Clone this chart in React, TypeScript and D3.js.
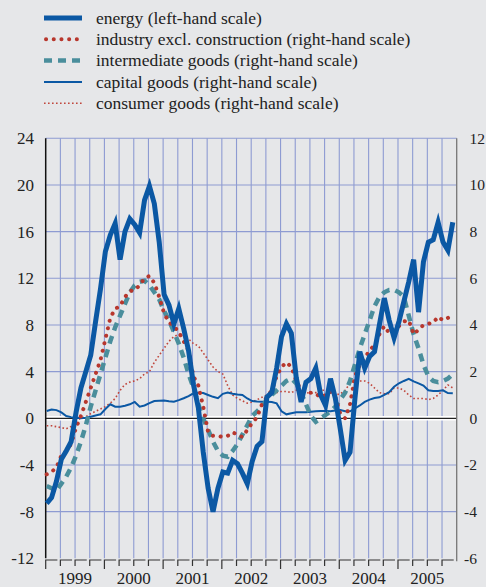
import * as d3 from "d3";
import React, { useEffect, useRef } from "react";

// monthly, Jan 1999 .. Dec 2005 (annual % changes)
const years = [1999, 2000, 2001, 2002, 2003, 2004, 2005];

const energy = [
  -7.3, -6.8, -5.4, -3.5, -2.8, -2.0, 0.5, 2.6, 4.0, 5.4, 8.3, 11.1,
  14.3, 15.7, 16.7, 13.6, 16.0, 17.1, 16.6, 15.9, 18.7, 19.9, 18.4, 15.1,
  10.6, 9.7, 8.1, 9.4, 7.7, 5.8, 2.9, 0.9, -2.9, -6.0, -8.0, -6.0,
  -4.6, -4.7, -3.6, -3.9, -4.7, -5.6, -3.7, -2.4, -2.0, 1.8, 2.2, 4.3,
  7.0, 8.1, 7.3, 3.5, 1.4, 3.1, 3.4, 4.3, 2.0, 1.1, 3.4, 1.7,
  -0.9, -3.6, -2.9, 1.7, 5.7, 4.3, 5.3, 5.7, 8.0, 10.3, 8.4, 6.9,
  8.3, 10.0, 11.7, 13.6, 9.1, 13.4, 15.1, 15.3, 16.8, 15.1, 14.4, 16.8,
];

const industry = [
  -2.4, -2.3, -2.1, -1.6, -1.4, -1.1, -0.4, 0.1, 0.7, 1.3, 1.9, 2.5,
  3.4, 4.3, 4.7, 4.8, 5.2, 5.45, 5.5, 5.7, 6.0, 6.1, 5.8, 5.2,
  4.5, 4.1, 3.95, 3.7, 3.3, 2.9, 1.8, 1.4, 0.5, -0.6, -0.75, -0.75,
  -0.8, -0.75, -0.6, -0.7, -0.8, -0.5, -0.2, 0.05, 0.6, 0.9, 1.2, 1.8,
  2.2, 2.4, 2.2, 1.6, 1.2, 1.1, 1.1, 1.05, 0.9, 1.0, 1.15, 0.9,
  0.2, 0.0, 0.6, 1.8, 2.3, 2.6, 2.9, 3.15, 3.6, 3.95, 3.65, 3.7,
  3.95, 4.15, 4.2, 3.6, 3.8, 4.0, 4.05, 4.1, 4.35, 4.2, 4.3, 4.45,
];

const intermediate = [
  -2.9, -3.0, -3.1, -2.8, -2.5, -2.1, -1.6, -1.0, -0.3, 0.5, 1.2, 1.9,
  2.6, 3.3, 3.9, 4.4, 4.9, 5.4, 5.7, 5.85, 5.9, 5.7, 5.4, 5.1,
  4.6, 4.2, 3.7, 3.2, 2.6, 1.9, 1.3, 0.6, 0.0, -0.5, -1.0, -1.4,
  -1.6, -1.65, -1.4, -1.1, -0.7, -0.3, 0.1, 0.3, 0.5, 0.8, 1.0, 1.2,
  1.4, 1.6, 1.7, 1.5, 1.1, 0.6, 0.1, -0.15, 0.0, 0.14, 0.3, 0.5,
  0.8, 1.1, 1.6, 2.3, 3.0, 3.6, 4.2, 4.8, 5.2, 5.4, 5.5, 5.5,
  5.4, 5.2, 4.4, 3.6, 3.0, 2.3, 1.8, 1.6, 1.55, 1.6, 1.7, 1.9,
];

const capital = [
  0.31, 0.38, 0.35, 0.25, 0.1, 0.05, 0.03, 0.0, 0.02, 0.07, 0.12, 0.17,
  0.4, 0.6, 0.5, 0.5, 0.54, 0.6, 0.7, 0.5, 0.55, 0.65, 0.74, 0.75,
  0.76, 0.73, 0.71, 0.78, 0.86, 0.95, 1.07, 1.1, 1.08, 1.0, 0.92, 0.86,
  1.05, 1.1, 1.05, 1.02, 1.0, 0.85, 0.74, 0.72, 0.71, 0.71, 0.7, 0.64,
  0.3, 0.17, 0.22, 0.26, 0.26, 0.26, 0.28, 0.3, 0.31, 0.31, 0.3, 0.33,
  0.35, 0.3, 0.3, 0.42, 0.55, 0.7, 0.8, 0.87, 0.9, 1.0, 1.12, 1.35,
  1.5, 1.6, 1.69, 1.58, 1.5, 1.4, 1.2, 1.17, 1.17, 1.2, 1.08, 1.07,
];

const consumer = [
  -0.32, -0.32, -0.36, -0.4, -0.45, -0.35, -0.1, 0.0, 0.07, 0.2, 0.3, 0.4,
  0.5, 0.65, 0.85, 1.2, 1.45, 1.55, 1.6, 1.7, 1.9, 2.0, 2.4, 2.7,
  3.0, 3.3, 3.5, 3.6, 3.55, 3.4, 3.2, 3.1, 2.8, 2.5, 2.2, 2.0,
  1.9, 1.4, 1.0, 0.85, 0.75, 0.65, 0.7, 0.8, 0.9, 1.0, 1.05, 1.1,
  1.15, 1.15, 1.1, 1.2, 1.2, 1.1, 1.07, 1.1, 1.2, 1.2, 1.1, 1.0,
  1.05, 1.2, 1.5, 1.6, 1.6, 1.6, 1.5, 1.3, 1.1, 1.05, 1.05, 1.3,
  1.3, 1.2, 1.0, 0.85, 0.85, 0.85, 0.8, 0.85, 1.0, 1.2, 1.43, 1.3,
];

const leftTicks = [24, 20, 16, 12, 8, 4, 0, -4, -8, -12];
const rightTicks = [12, 10, 8, 6, 4, 2, 0, -2, -4, -6];

const legendItems = [
  { label: "energy (left-hand scale)", key: "energy" },
  { label: "industry excl. construction (right-hand scale)", key: "industry" },
  { label: "intermediate goods (right-hand scale)", key: "intermediate" },
  { label: "capital goods (right-hand scale)", key: "capital" },
  { label: "consumer goods (right-hand scale)", key: "consumer" },
];

const W = 486;
const H = 587;
const FONT = "Liberation Serif, Times New Roman, serif";

const styles = {
  energy: { stroke: "#0b58a4", width: 5, dash: null, cap: "butt" },
  industry: { stroke: "#b8372d", width: 4, dash: "0.1 7.6", cap: "round" },
  intermediate: { stroke: "#4a8e9c", width: 4.5, dash: "8 6", cap: "butt" },
  capital: { stroke: "#0b58a4", width: 2, dash: null, cap: "butt" },
  consumer: { stroke: "#c0463c", width: 1.6, dash: "1.6 2.4", cap: "butt" },
};

const App = () => {
  const ref = useRef(null);

  useEffect(() => {
    const svg = d3.select(ref.current);
    svg.selectAll("*").remove();

    const left = 45.7;
    const right = 456.7;
    const top = 138.3;
    const bottom = 558.3;

    const x = d3.scaleLinear().domain([1999, 2006]).range([left, right]);
    const yL = d3.scaleLinear().domain([-12, 24]).range([bottom, top]);
    const yR = d3.scaleLinear().domain([-6, 12]).range([bottom, top]);
    const t = (i) => 1999 + (i + 0.2) / 12;

    svg.append("rect").attr("width", W).attr("height", H).attr("fill", "#e6e7e9");

    // grid
    const quarters = d3.range(1999, 2006.001, 0.25);
    svg
      .append("g")
      .selectAll("line")
      .data(quarters.slice(1, -1))
      .enter()
      .append("line")
      .attr("x1", (d) => x(d))
      .attr("x2", (d) => x(d))
      .attr("y1", top)
      .attr("y2", bottom)
      .attr("stroke", "#8e9bd2")
      .attr("stroke-width", 1.1);

    svg
      .append("g")
      .selectAll("line")
      .data(leftTicks.filter((d) => d !== 0 && d !== -12))
      .enter()
      .append("line")
      .attr("x1", left)
      .attr("x2", right)
      .attr("y1", (d) => yL(d))
      .attr("y2", (d) => yL(d))
      .attr("stroke", "#8e9bd2")
      .attr("stroke-width", 1.1);

    // zero line
    svg.append("line").attr("x1", left).attr("x2", right).attr("y1", yL(0)).attr("y2", yL(0))
      .attr("stroke", "#fff").attr("stroke-width", 4.5);
    svg.append("line").attr("x1", left).attr("x2", right).attr("y1", yL(0)).attr("y2", yL(0))
      .attr("stroke", "#222").attr("stroke-width", 1.3);

    // axes lines
    svg.append("line").attr("x1", left).attr("x2", left).attr("y1", top).attr("y2", bottom)
      .attr("stroke", "#111").attr("stroke-width", 1.5);
    svg.append("line").attr("x1", right).attr("x2", right).attr("y1", top).attr("y2", bottom + 3)
      .attr("stroke", "#777").attr("stroke-width", 1.3);

    // bottom quarter ticks
    svg
      .append("g")
      .selectAll("path")
      .data(quarters.slice(0, -1))
      .enter()
      .append("path")
      .attr("d", (d) => {
        const x0 = x(d);
        const x1 = x(d + 0.25) - 3;
        return `M${x0},${Number.isInteger(d) ? 569 : 566}V560H${x1}`;
      })
      .attr("fill", "none")
      .attr("stroke", "#333")
      .attr("stroke-width", 1.2);

    // tick labels
    svg
      .append("g")
      .selectAll("text")
      .data(leftTicks)
      .enter()
      .append("text")
      .attr("x", 34)
      .attr("y", (d) => yL(d))
      .attr("dy", "0.35em")
      .attr("text-anchor", "end")
      .style("font-family", FONT)
      .style("font-size", "17px")
      .attr("fill", "#222")
      .text((d) => d);

    svg
      .append("g")
      .selectAll("text")
      .data(rightTicks)
      .enter()
      .append("text")
      .attr("x", (d) => (d < 0 ? 464 : 469.5))
      .attr("y", (d) => yR(d))
      .attr("dy", "0.35em")
      .style("font-family", FONT)
      .style("font-size", "15.5px")
      .attr("fill", "#222")
      .text((d) => d);

    svg
      .append("g")
      .selectAll("text")
      .data(years)
      .enter()
      .append("text")
      .attr("x", (d) => x(d + 0.5))
      .attr("y", 584)
      .attr("text-anchor", "middle")
      .style("font-family", FONT)
      .style("font-size", "17px")
      .attr("fill", "#222")
      .text((d) => d);

    // series
    const series = [
      { key: "consumer", values: consumer, y: yR },
      { key: "capital", values: capital, y: yR },
      { key: "intermediate", values: intermediate, y: yR },
      { key: "industry", values: industry, y: yR },
      { key: "energy", values: energy, y: yL },
    ];

    series.forEach((s) => {
      const st = styles[s.key];
      const line = d3
        .line()
        .x((d, i) => x(t(i)))
        .y((d) => s.y(d));
      svg
        .append("path")
        .datum(s.values)
        .attr("d", line)
        .attr("fill", "none")
        .attr("stroke", st.stroke)
        .attr("stroke-width", st.width)
        .attr("stroke-linejoin", "miter")
        .attr("stroke-linecap", st.cap)
        .attr("stroke-dasharray", st.dash);
    });

    // legend
    const lg = svg
      .append("g")
      .selectAll("g")
      .data(legendItems)
      .enter()
      .append("g")
      .attr("transform", (d, i) => `translate(0,${18 + i * 21.3})`);

    lg.append("line")
      .attr("x1", (d) => (styles[d.key].cap === "round" ? 46 : 44))
      .attr("x2", 82)
      .attr("stroke", (d) => styles[d.key].stroke)
      .attr("stroke-width", (d) => styles[d.key].width)
      .attr("stroke-linecap", (d) => styles[d.key].cap)
      .attr("stroke-dasharray", (d) => styles[d.key].dash);

    lg.append("text")
      .attr("x", 96)
      .attr("dy", "0.32em")
      .style("font-family", FONT)
      .style("font-size", "17.5px")
      .attr("fill", "#222")
      .text((d) => d.label);
  }, []);

  return (
    <svg
      ref={ref}
      width={W}
      height={H}
      style={{ position: "absolute", left: 0, top: 0, display: "block" }}
    />
  );
};

export default App;
